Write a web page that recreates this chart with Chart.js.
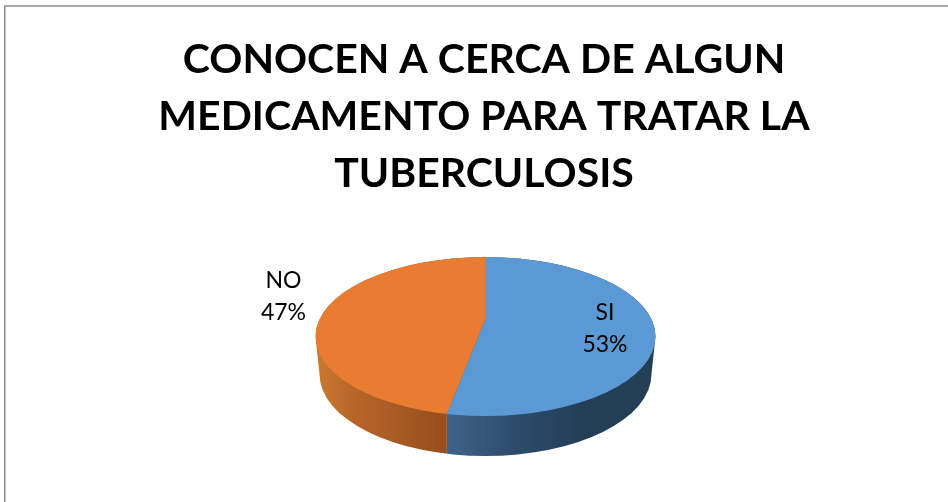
<!DOCTYPE html>
<html>
<head>
<meta charset="utf-8">
<title>Tuberculosis</title>
<script src="https://cdn.jsdelivr.net/npm/chart.js@4"></script>
<style>
    html, body { margin: 0; padding: 0; background: #fff; overflow: hidden; }
    canvas { display: block; }
</style>
</head>
<body>
<canvas id="chart" width="948" height="502"></canvas>
<script>
const titleLines = ['CONOCEN A CERCA DE ALGUN', 'MEDICAMENTO PARA TRATAR LA', 'TUBERCULOSIS'];
const categories = ['SI', 'NO'];
const seriesValues = [53, 47];
const sliceColors = ['#5b99d4', '#ea7c31'];
// side wall shades, left to right
const wallColors = [['#3e6488', '#2d4c6c', '#233f57', '#233e55'], ['#cb7830', '#b5642a', '#a65923', '#954e1d']];

// where the 3D disc sits on the page
const topFace = { x: 485.5, y: 336.5, rx: 170, ry: 79.5 };
const bottomFace = { x: 485.5, y: 374, rx: 166, ry: 82 };
const vertex = { x: 485, y: 320 };
const tilt = 0.47;
const reach = 215; // wedges overshoot the top face and get clipped to it
const labelSpots = [{ x: 605, y: 329 }, { x: 283.5, y: 297 }];

// screen x where the slice edge meets the rim of the top face
function rimX(angle) {
    const dx = Math.cos(angle);
    const dy = Math.sin(angle) * tilt;
    const ox = (vertex.x - topFace.x) / topFace.rx;
    const oy = (vertex.y - topFace.y) / topFace.ry;
    const ux = dx / topFace.rx;
    const uy = dy / topFace.ry;
    const a = ux * ux + uy * uy;
    const b = 2 * (ox * ux + oy * uy);
    const c = ox * ox + oy * oy - 1;
    const t = (-b + Math.sqrt(b * b - 4 * a * c)) / (2 * a);
    return vertex.x + t * dx;
}

function wallPath(ctx) {
    ctx.beginPath();
    ctx.ellipse(bottomFace.x, bottomFace.y, bottomFace.rx, bottomFace.ry, 0, 0, Math.PI);
    ctx.lineTo(topFace.x - topFace.rx, topFace.y);
    ctx.ellipse(topFace.x, topFace.y, topFace.rx, topFace.ry, 0, Math.PI, 0);
    ctx.closePath();
}

function wallGradient(ctx, colors, x0, x1) {
    const gradient = ctx.createLinearGradient(x0, 0, x1, 0);
    colors.forEach((color, i) => gradient.addColorStop(i / (colors.length - 1), color));
    return gradient;
}

const disc3d = {
    id: 'disc3d',
    beforeDraw(chart) {
        const ctx = chart.ctx;
        ctx.save();
        ctx.strokeStyle = '#8c8c8c';
        ctx.lineWidth = 1.5;
        ctx.beginPath();
        ctx.moveTo(4.75, 502);
        ctx.lineTo(4.75, 6);
        ctx.lineTo(948, 6);
        ctx.stroke();
        ctx.restore();
    },
    beforeDatasetsDraw(chart) {
        const ctx = chart.ctx;
        const arc = chart.getDatasetMeta(0).data[0];
        const splitX = rimX(arc.endAngle);

        // side wall
        ctx.save();
        wallPath(ctx);
        ctx.clip();
        ctx.fillStyle = wallGradient(ctx, wallColors[0], splitX, bottomFace.x + bottomFace.rx);
        ctx.fillRect(splitX, topFace.y - topFace.ry, 400, 300);
        ctx.fillStyle = wallGradient(ctx, wallColors[1], topFace.x - topFace.rx, splitX);
        ctx.fillRect(topFace.x - topFace.rx, topFace.y - topFace.ry, splitX - topFace.x + topFace.rx, 300);
        ctx.restore();

        // top face: library arcs squashed and moved, clipped to the ellipse
        ctx.save();
        ctx.beginPath();
        ctx.ellipse(topFace.x, topFace.y, topFace.rx, topFace.ry, 0, 0, Math.PI * 2);
        ctx.clip();
        const scale = reach / arc.outerRadius;
        ctx.translate(vertex.x, vertex.y);
        ctx.scale(scale, scale * tilt);
        ctx.translate(-arc.x, -arc.y);
    },
    afterDatasetsDraw(chart) {
        const ctx = chart.ctx;
        ctx.restore();

        const total = seriesValues.reduce((a, b) => a + b, 0);
        ctx.save();
        ctx.fillStyle = '#000';
        ctx.font = '23px Lato';
        ctx.textAlign = 'center';
        ctx.textBaseline = 'middle';
        categories.forEach((name, i) => {
            const pct = Math.round(seriesValues[i] / total * 100) + '%';
            ctx.fillText(name, labelSpots[i].x, labelSpots[i].y - 16);
            ctx.fillText(pct, labelSpots[i].x, labelSpots[i].y + 16);
        });
        ctx.restore();
    }
};

new Chart(document.getElementById('chart'), {
    type: 'pie',
    plugins: [disc3d],
    data: {
        labels: categories,
        datasets: [{
            data: seriesValues,
            backgroundColor: sliceColors,
            borderWidth: 0,
            clip: false
        }]
    },
    options: {
        responsive: false,
        animation: false,
        events: [],
        layout: { padding: { left: 20 } },
        plugins: {
            legend: { display: false },
            tooltip: { enabled: false },
            title: {
                display: true,
                text: titleLines,
                color: '#000',
                font: { family: 'Lato', size: 41, weight: 'bold', lineHeight: 1.39 },
                padding: { top: 31, bottom: 10 }
            }
        }
    }
});
</script>
</body>
</html>
